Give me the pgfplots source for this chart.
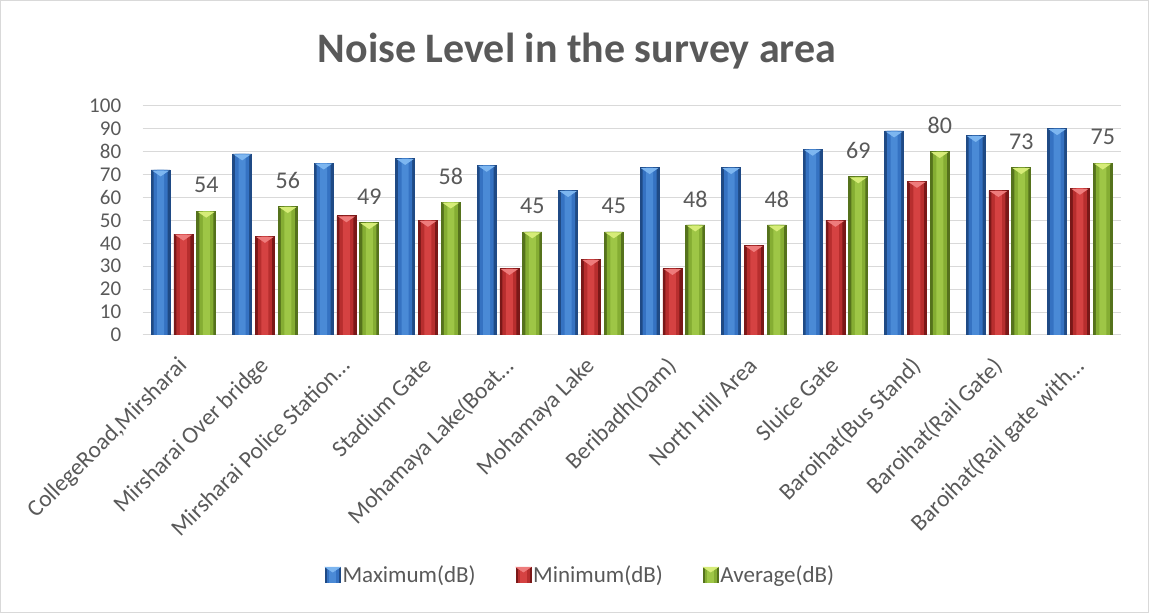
\documentclass[border=0pt]{standalone}
\usepackage{pgfplots}
\usepackage{pgfplotstable}
\pgfplotsset{compat=1.18}
\usepackage{fontspec}
\setmainfont{Carlito}
\definecolor{txt}{HTML}{595959}
\definecolor{gridc}{HTML}{D9D9D9}
\definecolor{bE}{HTML}{1F4A85}
\definecolor{bM}{HTML}{3572C2}
\definecolor{bC}{HTML}{4A8AD6}
\definecolor{bB}{HTML}{7DB6F0}
\definecolor{rE}{HTML}{7A1818}
\definecolor{rM}{HTML}{B72E2E}
\definecolor{rC}{HTML}{D54242}
\definecolor{rB}{HTML}{EE7C7C}
\definecolor{gE}{HTML}{55721C}
\definecolor{gM}{HTML}{85AD33}
\definecolor{gC}{HTML}{9EC646}
\definecolor{gB}{HTML}{D6EC78}
\pgfdeclareplotmark{bevel}{\pgfpathmoveto{\pgfqpoint{-8.6pt}{-0.6pt}}\pgfpathlineto{\pgfqpoint{8.6pt}{-0.6pt}}\pgfpathlineto{\pgfqpoint{0pt}{-6.5pt}}\pgfpathclose\pgfusepathqfill}
\pgfplotstableread{
idx max min avg
0 72 44 54
1 79 43 56
2 75 52 49
3 77 50 58
4 74 29 45
5 63 33 45
6 73 29 48
7 73 39 48
8 81 50 69
9 89 67 80
10 87 63 73
11 90 64 75
}\noise
\pgfplotsset{
  lay1/.style={ybar, bar width=19pt, draw=#1E, line width=0.6pt, fill=#1E},
  lay2/.style={ybar, bar width=14pt, draw=none, fill=#1M, forget plot},
  lay3/.style={ybar, bar width=7pt, draw=none, fill=#1C, forget plot},
  legimg/.style={legend image code/.code={\fill[#1E] (0pt,-7pt) rectangle (15pt,8pt); \fill[#1M] (2pt,-7pt) rectangle (13pt,8pt); \fill[#1C] (4.5pt,-7pt) rectangle (10.5pt,8pt); \fill[#1B] (0pt,8pt) -- (15pt,8pt) -- (7.5pt,3pt) -- cycle;}},
}
\begin{document}
\begin{tikzpicture}
\path[use as bounding box] (0pt,0pt) rectangle (1149pt,613pt);
\draw[gridc, line width=1pt] (0.5pt,0.5pt) rectangle (1148.5pt,612.5pt);
\node[font=\fontsize{42}{50}\selectfont\bfseries, text=txt, anchor=base] at (577pt,550pt) {Noise Level in the survey area};
\begin{axis}[
  at={(142.7pt,278pt)}, anchor=south west,
  scale only axis, width=978pt, height=229.3pt,
  ymin=0, ymax=100, ytick={0,10,...,100},
  xmin=-0.5, xmax=11.5, xtick={0,...,11},
  xticklabels={{CollegeRoad,Mirsharai},{Mirsharai Over bridge},{Mirsharai Police Station…},{Stadium Gate},{Mohamaya Lake(Boat…},{Mohamaya Lake},{Beribadh(Dam)},{North Hill Area},{Sluice Gate},{Baroihat(Bus Stand)},{Baroihat(Rail Gate)},{Baroihat(Rail gate with…}},
  /pgf/number format/assume math mode=true,
  ymajorgrids, grid style={draw=gridc, line width=1pt},
  axis line style={draw=none}, major tick length=0pt,
  tick label style={text=txt},
  yticklabel style={font=\fontsize{21}{25}\selectfont, xshift=-18pt},
  xticklabel style={font=\fontsize{23.5}{27}\selectfont, rotate=45, anchor=north east, yshift=-6pt, xshift=-16pt},
  legend style={at={(0.4477,-1.047)}, anchor=center, draw=none, fill=none, legend columns=3,
    font=\fontsize{23}{27}\selectfont, text=txt,
    /tikz/every even column/.append style={column sep=38pt}},
]
% Maximum
\addplot[lay1=b, bar shift=-22.8pt, legimg=b] table[x=idx, y=max] {\noise};
\addplot[lay2=b, bar shift=-22.8pt] table[x=idx, y=max] {\noise};
\addplot[lay3=b, bar shift=-22.8pt] table[x=idx, y=max] {\noise};
% Minimum
\addplot[lay1=r, bar shift=0pt, legimg=r] table[x=idx, y=min] {\noise};
\addplot[lay2=r, bar shift=0pt] table[x=idx, y=min] {\noise};
\addplot[lay3=r, bar shift=0pt] table[x=idx, y=min] {\noise};
% Average
\addplot[lay1=g, bar shift=22.8pt, legimg=g] table[x=idx, y=avg] {\noise};
\addplot[lay2=g, bar shift=22.8pt] table[x=idx, y=avg] {\noise};
\addplot[lay3=g, bar shift=22.8pt] table[x=idx, y=avg] {\noise};
% bevels
\addplot[forget plot, only marks, mark=bevel, mark options={fill=bB, draw=none}] table[x expr=\thisrow{idx}-0.2798, y=max] {\noise};
\addplot[forget plot, only marks, mark=bevel, mark options={fill=rB, draw=none}] table[x=idx, y=min] {\noise};
\addplot[forget plot, only marks, mark=bevel, mark options={fill=gB, draw=none}, nodes near coords,
  nodes near coords style={font=\fontsize{24}{28}\selectfont, text=txt, anchor=center, yshift=26pt}] table[x expr=\thisrow{idx}+0.2798, y=avg] {\noise};
\legend{Maximum(dB),Minimum(dB),Average(dB)}
\end{axis}
\end{tikzpicture}
\end{document}
